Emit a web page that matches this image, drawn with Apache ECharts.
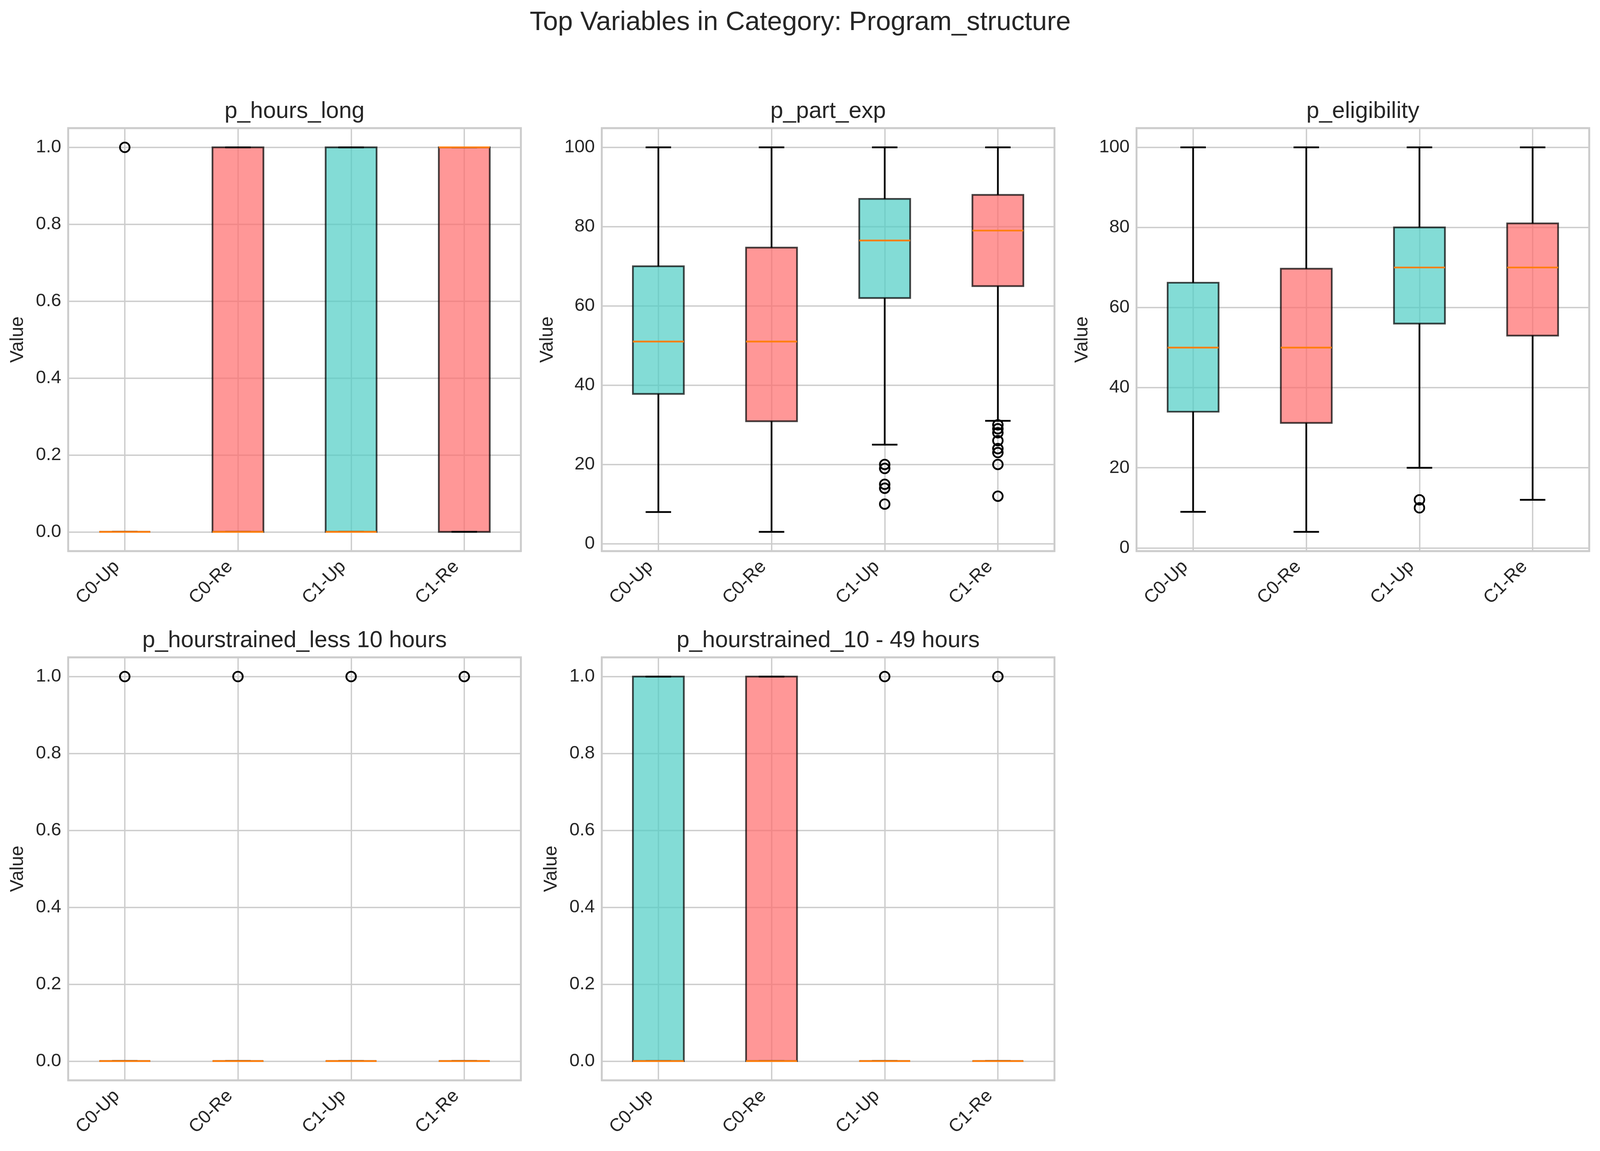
<!DOCTYPE html>
<html>
<head>
<meta charset="utf-8">
<script src="https://cdn.jsdelivr.net/npm/echarts@6/dist/echarts.min.js"></script>
<style>
  html, body { margin: 0; padding: 0; background: #ffffff; overflow: hidden; }
  #main { width: 100vw; height: 100vh; }
</style>
</head>
<body>
<div id="main"></div>
<script>
var groups = ['C0-Up', 'C0-Re', 'C1-Up', 'C1-Re'];
var panelNames = [
    'p_hours_long',
    'p_part_exp',
    'p_eligibility',
    'p_hourstrained_less 10 hours',
    'p_hourstrained_10 - 49 hours'
];

// box stats per group: [whisker low, Q1, median, Q3, whisker high]
var hoursLong = [[0, 0, 0, 0, 0], [0, 0, 0, 1, 1], [0, 0, 0, 1, 1], [0, 0, 1, 1, 1]];
var partExp = [[8, 37.8, 51, 70, 100], [3, 30.9, 51, 74.7, 100], [25, 62, 76.5, 87, 100], [31, 65, 79, 88, 100]];
var eligibility = [[9, 34, 50, 66.2, 100], [4, 31.2, 50, 69.7, 100], [20, 56, 70, 80, 100], [12, 53, 70, 81, 100]];
var hoursLess10 = [[0, 0, 0, 0, 0], [0, 0, 0, 0, 0], [0, 0, 0, 0, 0], [0, 0, 0, 0, 0]];
var hours10to49 = [[0, 0, 0, 1, 1], [0, 0, 0, 1, 1], [0, 0, 0, 0, 0], [0, 0, 0, 0, 0]];

// outliers per group
var hoursLongOut = [[1], [], [], []];
var partExpOut = [[], [], [20, 19, 15, 14, 10], [30, 29, 28, 26, 24, 23, 20, 12]];
var eligibilityOut = [[], [], [12, 10], []];
var hoursLess10Out = [[1], [1], [1], [1]];
var hours10to49Out = [[], [], [1], [1]];

var panelStats = [hoursLong, partExp, eligibility, hoursLess10, hours10to49];
var panelOut = [hoursLongOut, partExpOut, eligibilityOut, hoursLess10Out, hours10to49Out];

var fills = ['rgba(78,205,196,0.7)', 'rgba(255,107,107,0.7)', 'rgba(78,205,196,0.7)', 'rgba(255,107,107,0.7)'];
var textColor = '#262626';
var font = 'Liberation Sans';

// layout is measured on a 4153 x 2947 figure and scaled to the viewport
var el = document.getElementById('main');
var sx = (el.clientWidth || 4153) / 4153;
var sy = (el.clientHeight || 2947) / 2947;
var s = Math.min(sx, sy);

// grid boxes [left, top]
var gridPos = [[177, 328], [1562, 328], [2950, 328], [177, 1683], [1562, 1683]];
var gridW = 1175, gridH = 1083;
var nameGaps = [106, 116, 116, 106, 106];

function renderBox(params, api) {
    var cat = api.value(0);
    var lo = api.coord([cat, api.value(1)]);
    var q1 = api.coord([cat, api.value(2)]);
    var med = api.coord([cat, api.value(3)]);
    var q3 = api.coord([cat, api.value(4)]);
    var hi = api.coord([cat, api.value(5)]);
    var band = api.size([1, 0])[0];
    var half = band * 0.45 / 2;
    var cap = half / 2;
    var x = lo[0];
    var lw = 4.5 * s;
    var black = { stroke: '#000000', lineWidth: lw };
    return {
        type: 'group',
        children: [
            { type: 'rect', shape: { x: x - half, y: q3[1], width: half * 2, height: q1[1] - q3[1] },
              style: { fill: fills[cat], stroke: 'rgba(0,0,0,0.72)', lineWidth: lw } },
            { type: 'line', shape: { x1: x, y1: q1[1], x2: x, y2: lo[1] }, style: black },
            { type: 'line', shape: { x1: x, y1: q3[1], x2: x, y2: hi[1] }, style: black },
            { type: 'line', shape: { x1: x - cap, y1: lo[1], x2: x + cap, y2: lo[1] }, style: black },
            { type: 'line', shape: { x1: x - cap, y1: hi[1], x2: x + cap, y2: hi[1] }, style: black },
            { type: 'line', shape: { x1: x - half, y1: med[1], x2: x + half, y2: med[1] },
              style: { stroke: '#ff7f0e', lineWidth: lw } }
        ]
    };
}

var grids = [], xAxes = [], yAxes = [], series = [], graphics = [];

graphics.push({
    type: 'text', x: 2077 * sx, y: 58 * sy,
    style: { text: 'Top Variables in Category: Program_structure', fill: textColor,
             font: (69.5 * s) + 'px "' + font + '"', align: 'center', verticalAlign: 'middle' }
});

panelNames.forEach(function (name, i) {
    var stats = panelStats[i];
    var outs = panelOut[i];
    var all = [];
    stats.forEach(function (d) { all = all.concat(d); });
    outs.forEach(function (o) { all = all.concat(o); });
    var lo = Math.min.apply(null, all), hi = Math.max.apply(null, all);
    var pad = (hi - lo) * 0.05;
    var decimals = hi <= 1 ? 1 : 0;

    grids.push({
        left: gridPos[i][0] * sx, top: gridPos[i][1] * sy, width: gridW * sx, height: gridH * sy,
        show: true, borderColor: '#cccccc', borderWidth: 5 * s, backgroundColor: '#ffffff',
        containLabel: false, outerBoundsMode: 'none'
    });

    xAxes.push({
        type: 'category', gridIndex: i, data: groups, boundaryGap: true,
        axisLine: { show: false }, axisTick: { show: false },
        splitLine: { show: true, interval: 0, alignWithLabel: true, lineStyle: { color: '#cccccc', width: 3.5 * s } },
        axisLabel: {
            interval: 0, rotate: 45, margin: 12 * s, padding: [0, 30 * s, 0, 0],
            fontSize: 47.5 * s, fontFamily: font, color: textColor
        }
    });

    yAxes.push({
        type: 'value', gridIndex: i, min: lo - pad, max: hi + pad, splitNumber: 5,
        axisLine: { show: false }, axisTick: { show: false },
        splitLine: { show: true, lineStyle: { color: '#cccccc', width: 3.5 * s } },
        axisLabel: {
            showMinLabel: false, showMaxLabel: false, margin: 18 * s,
            fontSize: 47.5 * s, fontFamily: font, color: textColor,
            formatter: function (v) { return v.toFixed(decimals); }
        },
        name: 'Value', nameLocation: 'middle', nameGap: nameGaps[i] * s, nameRotate: 90,
        nameTextStyle: { fontSize: 48.5 * s, fontFamily: font, color: textColor }
    });

    series.push({
        type: 'custom', xAxisIndex: i, yAxisIndex: i, silent: true,
        renderItem: renderBox,
        encode: { x: 0, y: [1, 2, 3, 4, 5] },
        data: stats.map(function (d, k) { return [k].concat(d); }),
        z: 3
    });

    var pts = [];
    outs.forEach(function (o, k) { o.forEach(function (v) { pts.push([k, v]); }); });
    series.push({
        type: 'scatter', xAxisIndex: i, yAxisIndex: i, silent: true,
        symbol: 'circle', symbolSize: 25 * s, data: pts,
        itemStyle: { color: 'rgba(0,0,0,0)', borderColor: '#000000', borderWidth: 4.5 * s, opacity: 1 },
        z: 4
    });

    graphics.push({
        type: 'text', x: (gridPos[i][0] + gridW / 2) * sx, y: (gridPos[i][1] - 42) * sy,
        style: { text: name, fill: textColor, font: (60 * s) + 'px "' + font + '"',
                 align: 'center', verticalAlign: 'middle' }
    });
});

var chart = echarts.init(el, null, { renderer: 'canvas' });
var option = {
    backgroundColor: '#ffffff',
    animation: false,
    grid: grids,
    xAxis: xAxes,
    yAxis: yAxes,
    series: series,
    graphic: graphics
};
chart.setOption(option);

window.addEventListener('resize', function () {
    chart.resize();
});
</script>
</body>
</html>
